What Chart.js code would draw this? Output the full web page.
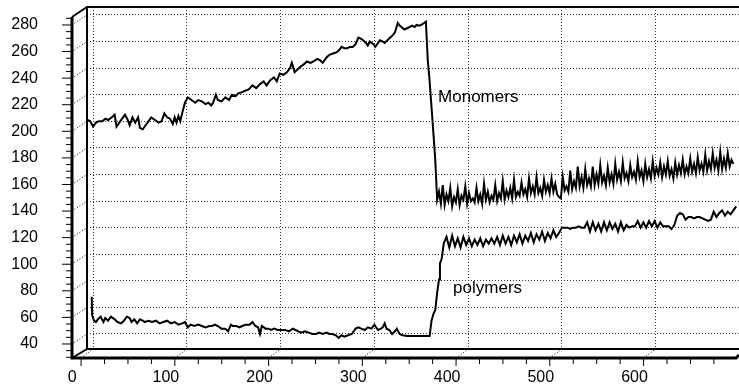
<!DOCTYPE html>
<html>
<head>
<meta charset="utf-8">
<script src="https://cdn.jsdelivr.net/npm/chart.js@4.4.1/dist/chart.umd.min.js"></script>
<style>
  html, body { margin: 0; padding: 0; background: #fff; }
  canvas { display: block; }
</style>
</head>
<body>
<canvas id="chart" width="739" height="389"></canvas>
<script>
// tick labels
const xTicks = [0, 100, 200, 300, 400, 500, 600];
const yTicks = [40, 60, 80, 100, 120, 140, 160, 180, 200, 220, 240, 260, 280];

// Monomers
const monoX = [
  -6, -3, 0, 3, 6, 10, 13, 16, 20, 23,
  25, 28, 31, 34, 37, 39, 42, 45, 48, 50,
  53, 56, 59, 62, 66, 70, 73, 76, 79, 82,
  85, 87, 89, 91, 93, 95, 98, 101, 105, 109,
  112, 116, 120, 123, 126, 128, 131, 133, 137, 141,
  145, 148, 152, 155, 159, 162, 166, 170, 174, 178,
  182, 185, 189, 193, 196, 199, 203, 207, 210, 212,
  215, 218, 221, 225, 228, 232, 235, 239, 242, 245,
  249, 252, 256, 260, 263, 265, 268, 271, 274, 277,
  280, 283, 286, 288, 291, 293, 295, 297, 299, 301,
  304, 306, 309, 311, 314, 317, 320, 322, 325, 327,
  329, 332, 335, 338, 340, 343, 345, 348, 351, 353,
  355, 357, 359, 362, 365, 367,
  369, 371, 373, 375, 377, 379, 381, 383, 385, 387,
  389, 391, 393, 395, 397, 399, 401, 403, 405, 407,
  409, 411, 413, 415, 417, 419, 421, 423, 425, 427,
  429, 431, 433, 435, 437, 439, 441, 443, 445, 447,
  449, 451, 453, 455, 457, 459, 461, 463, 465, 467,
  469, 471, 473, 475, 477, 479, 481, 483, 485, 487,
  489, 491, 493, 495, 497, 499, 501, 503, 505, 507,
  509, 511, 513, 515, 517, 519, 521, 523, 525, 527,
  529, 531, 533, 535, 537, 539, 541, 543, 545, 547,
  549, 551, 553, 555, 557, 559, 561, 563, 565, 567,
  569, 571, 573, 575, 577, 579, 581, 583, 585, 587,
  589, 591, 593, 595, 597, 599, 601, 603, 605, 607,
  609, 611, 613, 615, 617, 619, 621, 623, 625, 627,
  629, 631, 633, 635, 637, 639, 641, 643, 645, 647,
  649, 651, 653, 655, 657, 659, 661, 663, 665, 667,
  669, 671, 673, 675, 677, 679, 681, 683
];
const monoY = [
  201, 200, 196, 199, 200, 200, 202, 201, 203, 205,
  196, 199, 202, 205, 201, 197, 203, 199, 203, 195,
  194, 197, 200, 203, 201, 199, 200, 206, 203, 202,
  198, 203, 199, 204, 200, 206, 214, 218, 216, 214,
  216, 215, 213, 214, 212, 214, 220, 216, 215, 218,
  216, 220, 219, 221, 222, 223, 224, 227, 225, 228,
  230, 227, 231, 233, 230, 236, 235, 237, 240, 244,
  237, 239, 241, 243, 245, 244, 245, 247, 246, 244,
  248, 250, 251, 252, 254, 256, 255, 255, 256, 256,
  258, 263, 262, 261, 259, 257, 260, 259, 258, 256,
  259, 261, 260, 259, 261, 263, 265, 267, 274, 272,
  271, 269, 270, 271, 272, 271, 272.5, 272, 273, 274,
  275, 246, 230, 201, 171, 141,
  147, 138, 152, 137, 145, 140, 150, 136, 143, 139,
  149, 137, 144, 141, 151, 138, 146, 140, 142, 139,
  150, 140, 145, 138, 153, 141, 147, 139, 144, 141,
  152, 140, 146, 142, 155, 141, 148, 143, 150, 142,
  156, 143, 147, 144, 154, 145, 149, 143, 157, 146,
  151, 145, 158, 146, 150, 144, 156, 147, 152, 146,
  157, 147, 153, 145, 143, 142, 158, 148, 151, 147,
  163, 149, 155, 150, 166, 151, 158, 150, 164, 152,
  157, 151, 166, 152, 160, 153, 167, 154, 159, 152,
  165, 154, 160, 153, 168, 156, 162, 155, 169, 157,
  161, 155, 167, 158, 162, 156, 170, 158, 163, 155,
  168, 158, 164, 157, 170, 159, 165, 160, 169, 158,
  166, 160, 170, 159, 164, 157, 169, 160, 167, 161,
  171, 160, 166, 161, 172, 162, 168, 161, 173, 163,
  168, 162, 175, 163, 170, 164, 176, 165, 171, 163,
  177, 164, 172, 165, 176, 166, 171, 168
];

// Polymers
const polyX = [
  -1.5, -1, 1, 3, 5, 8, 11, 13, 16, 19,
  23, 26, 30, 33, 36, 39, 41, 44, 47, 50,
  53, 55, 59, 63, 67, 71, 75, 79, 83, 87,
  91, 95, 98, 101, 104, 108, 112, 116, 120, 124,
  127, 130, 133, 137, 141, 144, 147, 149, 153, 156,
  159, 163, 167, 170, 173, 176, 178, 180, 184, 187,
  190, 193, 197, 201, 205, 209, 213, 216, 219, 222,
  226, 230, 234, 238, 241, 245, 249, 252, 255, 259,
  262, 265, 268, 272, 276, 280, 283, 286, 290, 293,
  297, 300, 304, 307, 309, 311, 313, 316, 319, 322,
  324, 327, 330, 335, 340, 345, 350, 355, 359, 361,
  363, 365, 367, 369, 370, 372, 374,
  377, 380, 383, 386, 389, 392, 395, 398, 401, 404,
  407, 410, 413, 416, 419, 422, 425, 428, 431, 434,
  437, 440, 443, 446, 449, 452, 455, 458, 461, 464,
  467, 470, 473, 476, 479, 482, 485, 488, 491, 494,
  497, 500, 503, 506, 509, 512, 515, 518, 521, 524,
  527, 530, 533, 536, 539, 542, 545, 548, 551, 554,
  557, 560, 563, 566, 569, 572, 575, 578, 581, 584,
  587, 590, 593, 596, 599, 602, 605, 608, 611, 614,
  617, 620, 623, 626, 629, 632, 635, 638, 641, 644,
  647, 650, 653, 656, 659, 662, 665, 668, 671, 674,
  677, 680, 683, 686
];
const polyY = [
  68, 54, 50, 49, 51, 53, 49, 52, 50, 53,
  51, 49, 48, 50, 53, 52, 49, 51, 48, 51,
  50, 49, 50, 49, 50, 48, 49, 50, 48, 49,
  47, 48, 49, 45, 47, 46, 47, 46, 45, 46,
  46, 47, 46, 44, 44, 42, 47, 46, 46, 45,
  46, 47, 47, 49, 46, 45, 40, 46, 44, 44,
  43, 44, 43, 43, 43, 42, 44, 43, 42, 41,
  42, 41, 40, 40, 41, 40, 41, 40, 40, 39,
  37, 39, 38, 39, 40, 44, 45, 44, 43, 45,
  44, 47, 43, 44, 45, 48, 44, 43, 40, 42,
  44, 40, 39, 38.5, 38.5, 38.5, 38.5, 38.5, 38.5, 50,
  55, 58, 71, 81, 93, 97, 108,
  113, 105, 114, 106, 112, 105, 113, 107, 112, 106,
  111, 107, 112, 106, 111, 108, 112, 108, 113, 107,
  114, 108, 113, 107, 114, 109, 115, 108, 114, 110,
  116, 109, 115, 111, 117, 110, 116, 112, 118, 113,
  116, 120, 120, 120, 119, 120, 120, 121, 120, 120,
  124, 117, 124, 118, 123, 117, 124, 118, 124, 119,
  123, 117, 124, 118, 122, 120, 121, 121, 125, 120,
  124, 120, 125, 121, 125, 120, 124, 121, 121, 121,
  119, 122, 129, 131, 130, 126, 128, 128, 127, 128,
  128, 127, 126, 125, 126, 132, 128, 131, 133, 129,
  132, 130, 133, 136
];

const FONT = '"Liberation Sans", Arial, Helvetica, sans-serif';

const toPoints = (xs, ys) => xs.map((v, i) => ({ x: v, y: ys[i] }));

// draws the front axes, the 3d box edges and the two curve names
const frame3d = {
  id: 'frame3d',
  afterDraw(chart) {
    const { ctx, chartArea: a, scales: { x, y } } = chart;
    const fx = a.left - 15;      // front vertical axis
    const fy = a.bottom + 9;     // front horizontal axis
    const line = (x1, y1, x2, y2) => {
      ctx.beginPath(); ctx.moveTo(x1, y1); ctx.lineTo(x2, y2); ctx.stroke();
    };
    ctx.save();
    ctx.strokeStyle = '#000';

    // dotted links between front ticks and back grid
    ctx.lineWidth = 1;
    ctx.setLineDash([1, 2]);
    yTicks.forEach(v => {
      const py = y.getPixelForValue(v);
      line(fx, py + 10, a.left, py);
    });
    xTicks.forEach(v => {
      const px = x.getPixelForValue(v);
      line(px - 12, fy, px, a.bottom);
    });
    ctx.setLineDash([]);

    // back wall
    ctx.lineWidth = 2;
    ctx.beginPath();
    ctx.moveTo(a.right, a.top);
    ctx.lineTo(a.left, a.top);
    ctx.lineTo(a.left, a.bottom);
    ctx.lineTo(a.right, a.bottom);
    ctx.stroke();

    // front axes
    ctx.lineWidth = 3;
    ctx.beginPath();
    ctx.moveTo(fx, a.top + 10);
    ctx.lineTo(fx, fy);
    ctx.lineTo(a.right - 3, fy);
    ctx.lineTo(a.right, fy - 3);
    ctx.stroke();
    ctx.lineWidth = 2;
    line(fx, a.top + 10, a.left, a.top);
    line(fx, fy, a.left, a.bottom);

    // front tick marks
    ctx.lineWidth = 1;
    for (let v = 30; v <= 285; v += 5) {
      const py = y.getPixelForValue(v) + 10;
      line(fx - (v % 20 === 0 ? 10 : 6), py, fx, py);
    }
    for (let v = 0; v <= 675; v += 25) {
      const px = x.getPixelForValue(v) - 12;
      line(px, fy, px, fy + (v % 100 === 0 ? 8 : 6));
    }

    // curve names
    ctx.fillStyle = '#000';
    ctx.font = '17px ' + FONT;
    ctx.textAlign = 'left';
    ctx.textBaseline = 'middle';
    ctx.fillText('Monomers', x.getPixelForValue(368), y.getPixelForValue(218));
    ctx.fillText('polymers', x.getPixelForValue(384), y.getPixelForValue(74.6));
    ctx.restore();
  }
};

new Chart(document.getElementById('chart'), {
  type: 'line',
  data: {
    datasets: [
      {
        label: 'Monomers',
        data: toPoints(monoX, monoY),
        borderColor: '#000',
        borderWidth: 2,
        pointRadius: 0,
        tension: 0,
      },
      {
        label: 'polymers',
        data: toPoints(polyX, polyY),
        borderColor: '#000',
        borderWidth: 2,
        pointRadius: 0,
        tension: 0,
      },
    ],
  },
  options: {
    responsive: false,
    animation: false,
    devicePixelRatio: 1,
    layout: { padding: { top: 7, left: 0, right: 0, bottom: 0 } },
    plugins: { legend: { display: false }, tooltip: { enabled: false } },
    scales: {
      x: {
        type: 'linear',
        min: -6.5,
        max: 689,
        afterBuildTicks: s => { s.ticks = xTicks.map(v => ({ value: v })); },
        afterFit: s => { s.height = 40; s.paddingLeft = 0; s.paddingRight = 0; },
        grid: { color: '#333', lineWidth: 1, drawTicks: false },
        border: { display: false, dash: [1, 2] },
        ticks: {
          padding: 19, labelOffset: -21, color: '#000',
          maxRotation: 0, autoSkip: false,
          font: { family: FONT, size: 16 },
        },
      },
      y: {
        type: 'linear',
        min: 28.7,
        max: 286,
        afterBuildTicks: s => { s.ticks = yTicks.map(v => ({ value: v })); },
        afterFit: s => { s.width = 87; s.paddingTop = 0; s.paddingBottom = 0; },
        grid: { color: '#333', lineWidth: 1, drawTicks: false },
        border: { display: false, dash: [1, 2] },
        ticks: {
          padding: 49, labelOffset: 10, color: '#000', autoSkip: false,
          font: { family: FONT, size: 16 },
        },
      },
    },
  },
  plugins: [frame3d],
});
</script>
</body>
</html>
